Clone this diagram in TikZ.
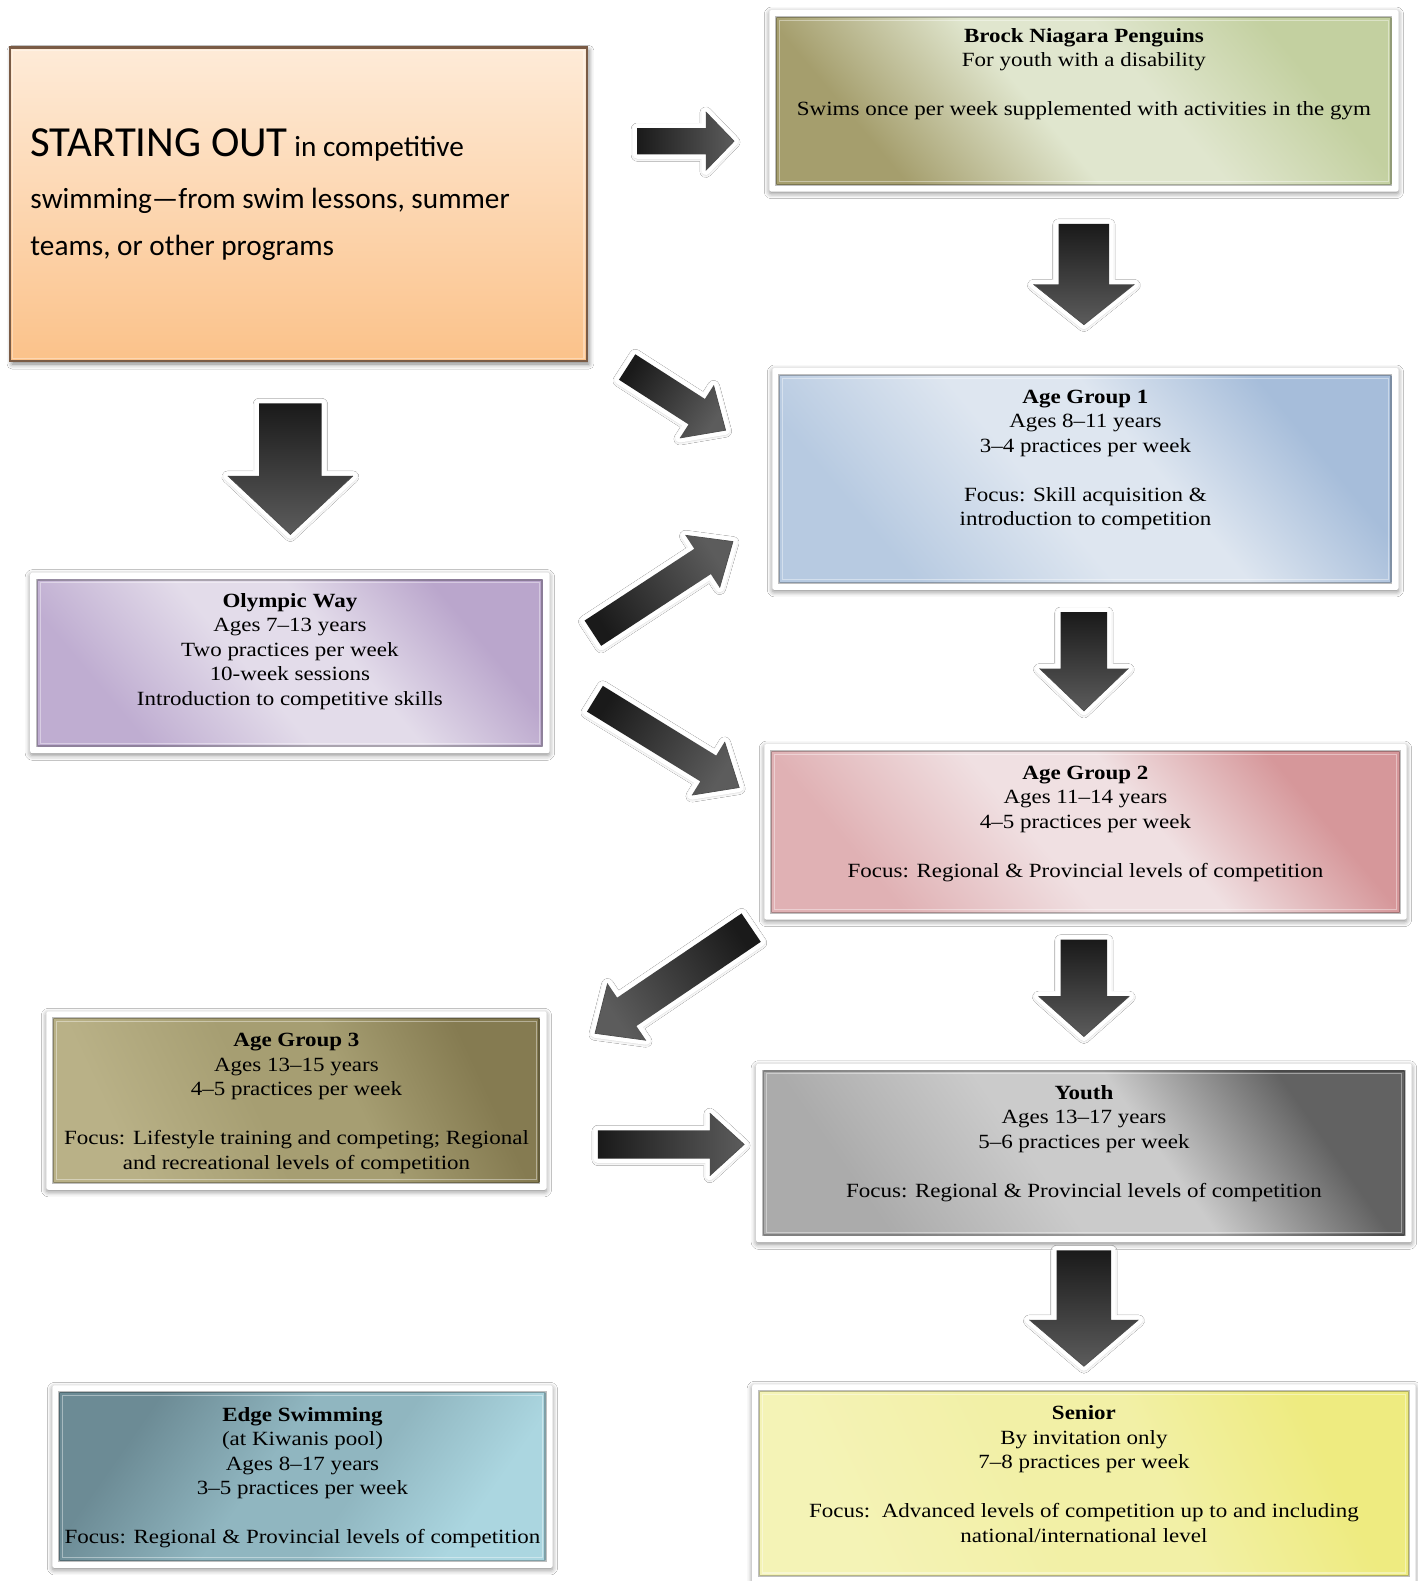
\documentclass[tikz,border=0pt]{standalone}
\usepackage{fontspec}
\setmainfont{Liberation Serif}[FakeStretch=1.14]
\newfontfamily\calib{Carlito}
\usetikzlibrary{shadows.blur,fit,calc}

\definecolor{startTop}{HTML}{FEEBD8}
\definecolor{startBot}{HTML}{FBC28A}
\definecolor{startBorder}{HTML}{7A5B45}
\definecolor{arrowA}{HTML}{1A1A1A}
\definecolor{arrowB}{HTML}{5C5C5C}

\newcommand\mkshading[4]{%
  \pgfdeclarehorizontalshading{#1}{100bp}{color(0bp)=(#2); color(27bp)=(#2); color(45bp)=(#3); color(57bp)=(#3); color(73bp)=(#4); color(100bp)=(#4)}}
\definecolor{brockA}{HTML}{A59E6D}\definecolor{brockB}{HTML}{E0E6CE}\definecolor{brockC}{HTML}{C3D0A0}
\definecolor{agoneA}{HTML}{B7CAE1}\definecolor{agoneB}{HTML}{DEE6F0}\definecolor{agoneC}{HTML}{A6BDDA}
\definecolor{olyA}{HTML}{BFADD1}\definecolor{olyB}{HTML}{E3DCEA}\definecolor{olyC}{HTML}{BAA6CC}
\definecolor{agtwoA}{HTML}{E0B1B4}\definecolor{agtwoB}{HTML}{F0E0E2}\definecolor{agtwoC}{HTML}{D6979A}
\definecolor{agthrA}{HTML}{B9B187}\definecolor{agthrB}{HTML}{A69E72}\definecolor{agthrC}{HTML}{857B51}
\definecolor{youA}{HTML}{ABABAB}\definecolor{youB}{HTML}{CBCBCB}\definecolor{youC}{HTML}{626262}
\definecolor{edgeA}{HTML}{6C8B95}\definecolor{edgeB}{HTML}{90B6C0}\definecolor{edgeC}{HTML}{ABD6E0}
\definecolor{senA}{HTML}{F4F3B6}\definecolor{senB}{HTML}{F2F0A6}\definecolor{senC}{HTML}{EEEB80}
\mkshading{brockS}{brockA}{brockB}{brockC}
\mkshading{agoneS}{agoneA}{agoneB}{agoneC}
\mkshading{olyS}{olyA}{olyB}{olyC}
\mkshading{agtwoS}{agtwoA}{agtwoB}{agtwoC}
\mkshading{agthrS}{agthrA}{agthrB}{agthrC}
\mkshading{youS}{youA}{youB}{youC}
\mkshading{edgeS}{edgeA}{edgeB}{edgeC}
\mkshading{senS}{senA}{senB}{senC}

\tikzset{
  whiteframe/.style={fill=white, rounded corners=2pt,
    blur shadow={shadow xshift=0pt, shadow yshift=-2pt, shadow blur radius=5pt, shadow opacity=45}},
  panel/.style={inner sep=0pt, draw=black, draw opacity=.25, line width=2pt},
  txt/.style={anchor=north, align=center, inner sep=0pt, font=\fontsize{20}{24.3}\selectfont},
  startbox/.style={inner sep=0pt, draw=startBorder, line width=2.5pt,
    top color=startTop, bottom color=startBot,
    blur shadow={shadow xshift=2pt, shadow yshift=-3pt, shadow blur radius=5pt, shadow opacity=50}},
  brockfill/.style={shading=brockS, shading angle=40},
  agonefill/.style={shading=agoneS, shading angle=40},
  olyfill/.style={shading=olyS, shading angle=40},
  agtwofill/.style={shading=agtwoS, shading angle=40},
  agthrfill/.style={shading=agthrS, shading angle=25},
  youfill/.style={shading=youS, shading angle=35},
  edgefill/.style={shading=edgeS, shading angle=-35},
  senfill/.style={shading=senS, shading angle=25},
  arrowout/.style={fill=white, draw=white, line width=9pt, line join=round,
    blur shadow={shadow xshift=0pt, shadow yshift=-1pt, shadow blur radius=6pt, shadow opacity=55}},
  pics/barrow/.style n args={5}{code={
    \path[arrowout] (0,-#2/2) -- (#1-#4,-#2/2) -- (#1-#4,-#3/2) -- (#1,0) -- (#1-#4,#3/2) -- (#1-#4,#2/2) -- (0,#2/2) -- cycle;
    \path[left color=arrowA, right color=arrowB, shading angle=#5] (0,-#2/2) -- (#1-#4,-#2/2) -- (#1-#4,-#3/2) -- (#1,0) -- (#1-#4,#3/2) -- (#1-#4,#2/2) -- (0,#2/2) -- cycle;
    \draw[black!70, line width=.7pt, line join=miter] (#1-#4,-#3/2) -- (#1,0) -- (#1-#4,#3/2);
  }}
}

\newcommand\mkpanel[6]{%
  \fill[whiteframe] (#2-7,#3-7) rectangle (#4+7,#5+7);
  \node[panel,#6,fit={(#2,#3)(#4,#5)}] (#1) {};
  \draw[white, opacity=.4, line width=1.2pt] ($(#1.south west)+(4pt,4pt)$) rectangle ($(#1.north east)+(-4pt,-4pt)$);
}

\begin{document}
\begin{tikzpicture}[x=1pt,y=-1pt]
\useasboundingbox[fill=white] (0,0) rectangle (1406,1568);

% starting box
\node[startbox, fit={(10,47)(582,358)}] (start) {};
\draw[white, opacity=.35, line width=1.2pt] ($(start.south west)+(4pt,4pt)$) rectangle ($(start.north east)+(-4pt,-4pt)$);
\node[anchor=north west, align=left, inner sep=0pt, font=\calib\fontsize{29}{47}\selectfont] (startT) at (30,127)
  {{\fontsize{42.5}{47}\selectfont STARTING OUT} in competitive\\[5pt]
   swimming—from swim lessons, summer\\
   teams, or other programs};

% panels
\mkpanel{brock}{770}{17}{1380}{183}{brockfill}
\mkpanel{agone}{773}{372}{1380}{578}{agonefill}
\mkpanel{olympic}{37}{575}{538}{740}{olyfill}
\mkpanel{agtwo}{765}{745}{1388}{905}{agtwofill}
\mkpanel{agthree}{53}{1010}{535}{1173}{agthrfill}
\mkpanel{youth}{757}{1062}{1393}{1225}{youfill}
\mkpanel{edge}{59}{1381}{541}{1548}{edgefill}
\mkpanel{senior}{753}{1380}{1397}{1563}{senfill}

% texts
\node[txt] (brockT) at ([yshift=-12pt]brock.north)
  {\textbf{Brock Niagara Penguins}\\For youth with a disability\\[24.3pt]Swims once per week supplemented with activities in the gym};
\node[txt] (agoneT) at ([yshift=-15.5pt]agone.north)
  {\textbf{Age Group 1}\\Ages 8–11 years\\3–4 practices per week\\[24.3pt]Focus: Skill acquisition \&\\introduction to competition};
\node[txt] (olympicT) at ([yshift=-14pt]olympic.north)
  {\textbf{Olympic Way}\\Ages 7–13 years\\Two practices per week\\10-week sessions\\Introduction to competitive skills};
\node[txt] (agtwoT) at ([yshift=-15.5pt]agtwo.north)
  {\textbf{Age Group 2}\\Ages 11–14 years\\4–5 practices per week\\[24.3pt]Focus: Regional \& Provincial levels of competition};
\node[txt] (agthreeT) at ([yshift=-15.5pt]agthree.north)
  {\textbf{Age Group 3}\\Ages 13–15 years\\4–5 practices per week\\[24.3pt]Focus: Lifestyle training and competing; Regional\\and recreational levels of competition};
\node[txt] (youthT) at ([yshift=-15pt]youth.north)
  {\textbf{Youth}\\Ages 13–17 years\\5–6 practices per week\\[24.3pt]Focus: Regional \& Provincial levels of competition};
\node[txt] (edgeT) at ([yshift=-15.5pt]edge.north)
  {\textbf{Edge Swimming}\\(at Kiwanis pool)\\Ages 8–17 years\\3–5 practices per week\\[24.3pt]Focus: Regional \& Provincial levels of competition};
\node[txt] (seniorT) at ([yshift=-15pt]senior.north)
  {\textbf{Senior}\\By invitation only\\7–8 practices per week\\[24.3pt]Focus:\ \ Advanced levels of competition up to and including\\national/international level};

% block arrows
\pic[rotate=0] at (632,140) {barrow={96}{26}{58}{28}{90}};
\pic[rotate=-90] at (1075,222) {barrow={100}{50}{100}{40}{0}};
\pic[rotate=-32.7] at (622,364) {barrow={116}{30}{62}{34}{57.3}};
\pic[rotate=-90] at (288,400) {barrow={130}{62}{124}{58}{0}};
\pic[rotate=33.2] at (588,628) {barrow={166}{30}{62}{36}{123.2}};
\pic[rotate=-90] at (1075,607) {barrow={98}{46}{88}{42}{0}};
\pic[rotate=-31.6] at (590,693) {barrow={168}{30}{62}{36}{58.4}};
\pic[rotate=-145.9] at (745,920) {barrow={187}{34}{68}{38}{-55.9}};
\pic[rotate=-90] at (1075,932) {barrow={96}{46}{90}{40}{0}};
\pic[rotate=0] at (593,1135) {barrow={145}{28}{62}{34}{90}};
\pic[rotate=-90] at (1075,1240) {barrow={115}{54}{108}{46}{0}};
\end{tikzpicture}
\end{document}
